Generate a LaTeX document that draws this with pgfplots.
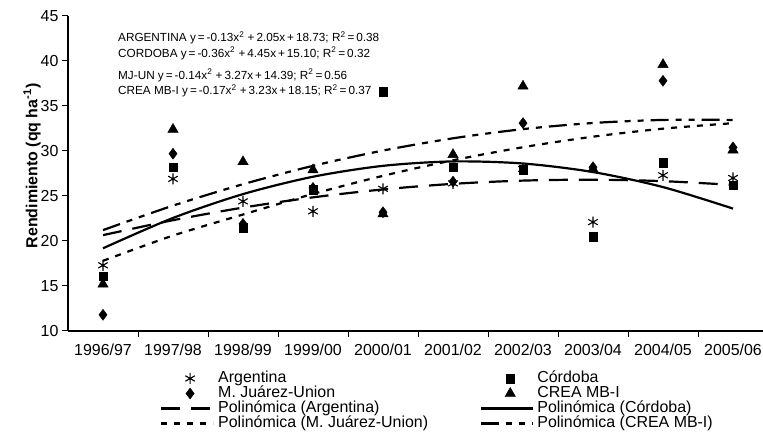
\documentclass[border=0pt]{standalone}
\usepackage{fontspec}
\setmainfont{Liberation Sans}
\usepackage{pgfplots}
\pgfplotsset{compat=1.18}
\begin{document}
\begin{tikzpicture}[x=1bp,y=1bp]
\useasboundingbox (0,0) rectangle (763,436);
\begin{axis}[
  at={(68bp,105bp)}, anchor=south west,
  scale only axis, width=695bp, height=315bp,
  xmin=-0.5, xmax=9.4286, ymin=10, ymax=45,
  axis x line*=bottom, axis y line*=left,
  axis line style={line width=1.3bp, black},
  xtick={0,...,9},
  xticklabels={1996/97,1997/98,1998/99,1999/00,2000/01,2001/02,2002/03,2003/04,2004/05,2005/06},
  major x tick style={draw=none},
  minor xtick={0.5,1.5,...,8.5},
  ytick={10,15,...,45},
  tick align=outside, major tick length=6bp, minor tick length=6bp,
  tick style={line width=1bp, black},
  ticklabel style={font=\fontsize{16}{18}\selectfont},
  xticklabel style={yshift=-3bp},
  /pgf/number format/assume math mode=true,
  ylabel={\bfseries Rendimiento (qq ha\textsuperscript{-1})},
  ylabel style={font=\fontsize{16}{18}\selectfont, at={(axis description cs:0,0.524)}, anchor=center, yshift=36bp},
  clip=false,
  legend columns=2,
  legend cell align=left,
  legend style={draw=none, fill=none, inner sep=0pt, outer sep=0pt,
    at={(axis description cs:0.1324,-0.127)}, anchor=north west,
    font=\fontsize{16}{18}\selectfont,
    nodes={inner sep=0pt, text height=11.5bp, text depth=3.5bp},
    row sep=0pt,
    /tikz/column 1/.style={column sep=4bp},
    /tikz/column 2/.style={column sep=52bp},
    /tikz/column 3/.style={column sep=3bp},
  },
  legend image code/.code={\path[draw=none] (0bp,0bp) -- (52bp,0bp); \draw[#1] (0bp,0bp) -- (52bp,0bp);},
]
\pgfplotsset{
  markleg/.style={legend image code/.code={\path[draw=none] (0bp,0bp) -- (52bp,0bp); \draw[##1] plot coordinates {(29bp,0bp)};}},
}
% Data points
\addplot[only marks, mark=asterisk, mark size=5.5bp, mark options={line width=1.1bp, black}, markleg] coordinates {
 (0,17.3) (1,26.9) (2,24.4) (3,23.3) (4,25.8) (5,26.4) (6,28.0) (7,22.1) (8,27.3) (9,27.0)};
\addlegendentry{Argentina}
\addplot[only marks, mark=square*, mark size=4.3bp, mark options={black, fill=black}, markleg] coordinates {
 (0,16.1) (1,28.2) (2,21.5) (3,25.7) (4,36.6) (5,28.2) (6,27.9) (7,20.5) (8,28.7) (9,26.2)};
\addlegendentry{Córdoba}
\addplot[only marks, mark=diamond*, mark size=5.5bp, mark options={black, fill=black}, markleg] coordinates {
 (0,11.8) (1,29.7) (2,21.9) (3,25.9) (4,23.2) (5,26.6) (6,33.1) (7,28.2) (8,37.8) (9,30.4)};
\addlegendentry{M. Juárez-Union}
\addplot[only marks, mark=triangle*, mark size=6bp, mark options={black, fill=black}, markleg] coordinates {
 (0,15.2) (1,32.4) (2,28.8) (3,27.9) (4,23.0) (5,29.6) (6,37.2) (7,28.0) (8,39.6) (9,30.1)};
\addlegendentry{CREA MB-I}
% Trend lines
\addplot[black, line width=2.2bp, smooth, dash pattern=on 19bp off 11bp] coordinates {
 (0,20.65) (1,22.31) (2,23.71) (3,24.85) (4,25.73) (5,26.35) (6,26.71) (7,26.81) (8,26.65) (9,26.23)};
\addlegendentry{Polinómica (Argentina)}
\addplot[black, line width=2.2bp, smooth] coordinates {
 (0,19.19) (1,22.56) (2,25.21) (3,27.14) (4,28.35) (5,28.84) (6,28.61) (7,27.66) (8,25.99) (9,23.6)};
\addlegendentry{Polinómica (Córdoba)}
\addplot[black, line width=2.2bp, smooth, dash pattern=on 6bp off 7bp] coordinates {
 (0,17.8) (1,20.6) (2,22.94) (3,25.23) (4,27.24) (5,28.97) (6,30.42) (7,31.59) (8,32.48) (9,33.09)};
\addlegendentry{Polinómica (M. Juárez-Union)}
\addplot[black, line width=2.2bp, smooth, dash pattern=on 18bp off 7bp on 6bp off 7bp on 6bp off 7bp] coordinates {
 (0,21.21) (1,23.93) (2,26.31) (3,28.35) (4,30.05) (5,31.41) (6,32.43) (7,33.11) (8,33.45) (9,33.45)};
\addlegendentry{Polinómica (CREA MB-I)}
% Equations
\begin{scope}[every node/.style={anchor=west, inner sep=0pt, font=\fontsize{11.8}{14}\selectfont}]
\node at (axis cs:0.214,42.6) {ARGENTINA y\,=\,-0.13x\textsuperscript{2} +\,2.05x\,+\,18.73; R\textsuperscript{2}\,=\,0.38};
\node at (axis cs:0.214,40.85) {CORDOBA y\,=\,-0.36x\textsuperscript{2} +\,4.45x\,+\,15.10; R\textsuperscript{2}\,=\,0.32};
\node at (axis cs:0.214,38.4) {MJ-UN y\,=\,-0.14x\textsuperscript{2} +\,3.27x\,+\,14.39; R\textsuperscript{2}\,=\,0.56};
\node at (axis cs:0.214,36.65) {CREA MB-I y\,=\,-0.17x\textsuperscript{2} +\,3.23x\,+\,18.15; R\textsuperscript{2}\,=\,0.37};
\end{scope}
\end{axis}
\end{tikzpicture}
\end{document}
